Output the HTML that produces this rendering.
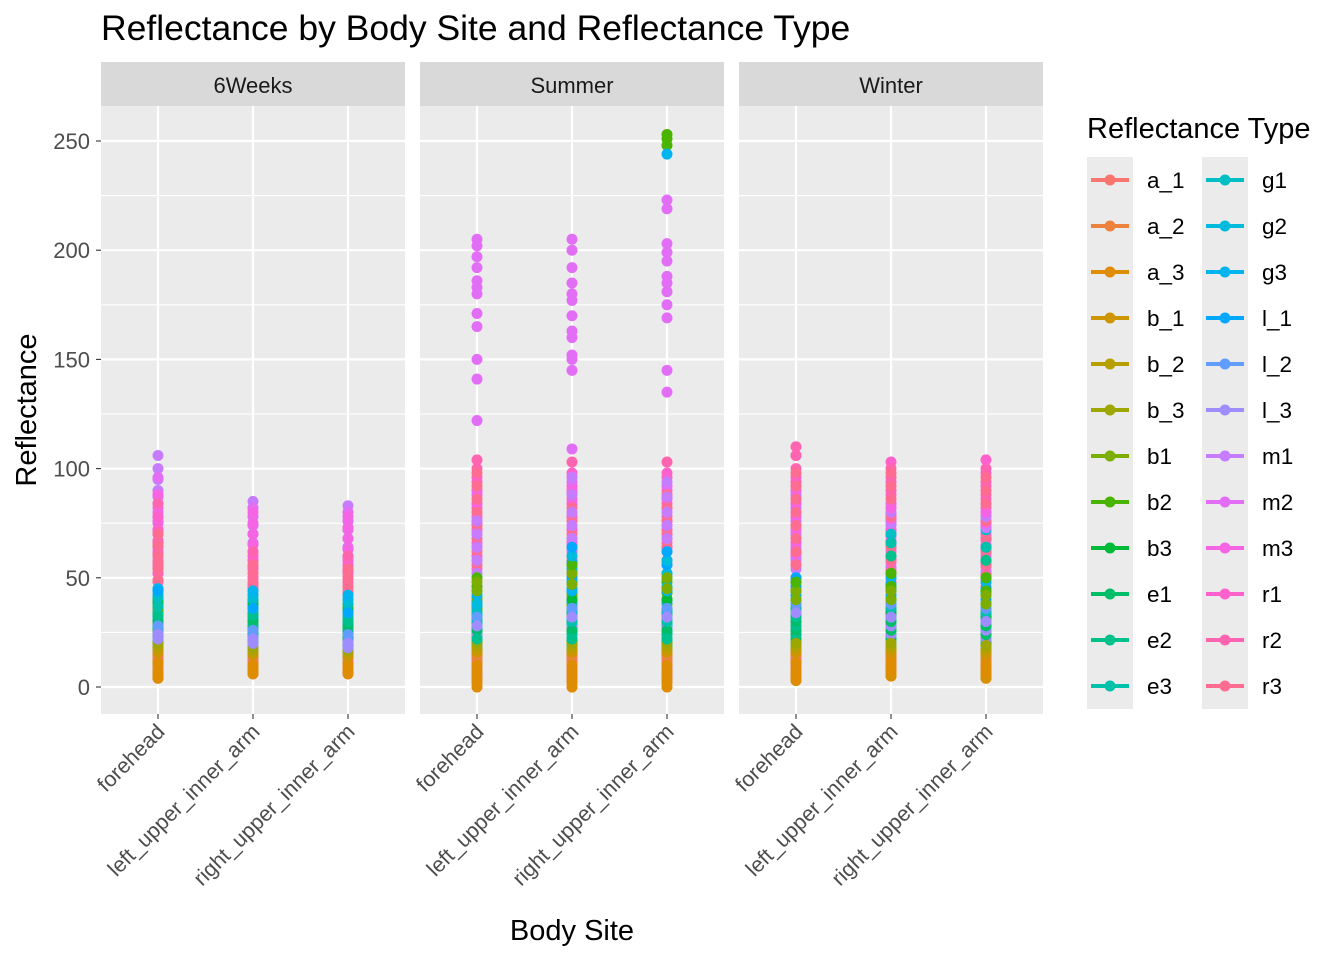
<!DOCTYPE html>
<html><head><meta charset="utf-8">
<style>
html,body{margin:0;padding:0;background:#fff;}
svg{display:block;font-family:"Liberation Sans",Arial,sans-serif;}
</style></head>
<body>
<svg id="chart" width="1344" height="960" viewBox="0 0 1344 960"></svg>
<script>
const types=["a_1","a_2","a_3","b_1","b_2","b_3","b1","b2","b3","e1","e2","e3","g1","g2","g3","l_1","l_2","l_3","m1","m2","m3","r1","r2","r3"];
const facets=["6Weeks","Summer","Winter"];
const sites=["forehead","left_upper_inner_arm","right_upper_inner_arm"];
const yTicks=[0,50,100,150,200,250];
// values per facet/site, one array per type (order as in types)
const w6_forehead=[[4,7,9,13],[5,8,10,15],[4,6,7,11],[6,9,12,16],[8,11,14,18],[10,13,15,20],[22,26,30,33,36],[24,29,34,37,40],[22,25,28,33,38],[18,21,24,27,30],[20,23,27,30,33],[25,28,31,34,37],[29,32,35,38,41],[33,36,39,42,45],[38,40,42,44,45],[24,30,36,40,44],[16,19,22,25,28],[14,17,19,22,24],[72,78,84,87,90,95,100,106],[58,64,70,75,80,88,96],[55,60,64,70,76,82,88],[48,52,56,61,66,72,78],[52,57,62,67,72,78,84],[44,49,54,57,60,65,70]];
const w6_left=[[6,8,9,12],[7,9,11,14],[6,7,8,10],[8,10,12,15],[9,11,13,16],[10,12,14,18],[24,27,30,33,36],[26,30,33,37,40],[22,25,28,33,38],[18,21,24,27,30],[20,23,26,30,33],[24,27,30,33,36],[28,31,34,37,40],[30,33,36,39,42],[34,37,40,42,44],[20,24,28,32,36],[16,18,20,23,26],[14,16,18,20,22],[62,66,70,74,78,82,85],[55,60,66,70,74,78,82],[50,55,60,65,70,75,80],[44,47,50,54,58],[46,50,54,58,62],[42,45,48,52,56]];
const w6_right=[[6,8,9,12],[7,9,10,14],[6,7,8,10],[8,10,11,14],[9,11,12,16],[10,12,14,17],[22,25,28,31,34],[26,29,32,35,37],[20,23,26,30,35],[16,19,22,25,28],[18,21,24,27,30],[22,25,28,31,34],[26,29,32,35,38],[28,31,34,37,40],[32,35,38,40,42],[18,22,26,30,34],[14,16,18,21,24],[12,14,16,18,20],[60,64,68,72,76,80,83],[54,59,64,68,72,76,80],[48,53,58,63,68,73,78],[42,46,50,53,56],[44,48,52,56,60],[40,43,46,50,54]];
const su_forehead=[[0,3,6,9,12],[2,5,8,11,14],[0,2,4,7,10],[4,7,10,13,16],[6,9,12,15,18],[8,11,14,17,20],[20,25,30,35,40,44,48],[26,31,36,41,46,50],[18,23,28,33,38],[8,12,16,21,26],[5,9,14,18,22],[10,15,20,25,30],[14,19,24,29,34],[18,23,28,33,38],[22,27,32,37,42],[26,30,34,39,44],[16,20,24,28,32],[12,16,20,24,28],[40,46,52,58,64,70,76],[58,64,70,75,80,84,88,122,141,150,165,171,180,183,186,192,197,202,205],[54,60,66,72,78,84,90],[60,66,72,78,84,90,96],[64,70,76,82,88,94,100,104],[50,56,62,68,74,80,86,92,98]];
const su_left=[[0,3,6,9,12],[2,5,8,11,14],[0,2,4,7,10],[4,7,10,13,16],[6,9,12,15,18],[8,11,14,17,20],[20,26,32,37,42,47,52],[28,33,38,43,48,52,56],[18,24,30,35,40],[8,12,16,21,26],[4,9,14,18,22],[10,15,20,25,30],[14,19,24,29,34],[22,29,36,42,48,54,60],[24,29,34,39,44],[30,35,40,45,50,57,64],[16,21,26,31,36],[12,17,22,27,32],[44,50,56,62,68,74,80,88,96],[60,66,72,78,84,89,94,109,145,150,152,160,163,170,177,180,185,192,200,205],[54,60,66,72,78,84,90],[62,68,74,80,86,92,98],[66,72,78,84,90,96,103],[52,58,64,70,76,82,88]];
const su_right=[[0,3,6,9,12],[2,5,8,11,14],[0,2,4,7,10],[4,7,10,13,16],[6,9,12,15,18],[8,11,14,17,20],[20,25,30,35,40,45,50],[28,33,38,43,48,248,251,253],[18,24,30,35,40],[8,12,16,21,26],[4,9,14,18,22],[10,15,20,25,30],[14,19,24,29,34],[22,28,34,40,46,52,58],[24,29,34,39,44,244],[30,35,40,45,50,56,62],[16,21,26,31,36],[12,17,22,27,32],[44,50,56,62,68,74,80,87,94],[58,64,70,76,82,87,92,135,145,169,175,181,185,188,195,199,203,219,223],[52,58,64,70,76,82,88],[62,68,74,80,86,92,98],[66,72,78,84,90,96,103],[52,58,64,70,76,82,88]];
const wi_forehead=[[3,5,8,10,13],[4,7,10,12,15],[3,5,6,8,11],[5,8,11,13,16],[6,9,13,15,18],[8,11,14,17,20],[20,24,28,32,36,40,44],[24,28,32,36,40,44,48],[18,22,26,30,34],[14,18,22,26,30],[16,20,24,28,32],[20,24,28,32,36],[24,28,32,36,40],[28,32,36,40,44],[32,36,40,44,48],[34,38,42,46,50],[22,26,30,34,38],[18,22,26,30,34],[54,59,64,70,76,82,88],[58,63,68,74,80,86,92],[56,61,66,72,78,84,90],[60,66,72,78,84,90,96,106],[64,70,76,82,88,94,100,106,110],[50,56,62,68,74,80,86,92,98]];
const wi_left=[[5,7,9,11,13],[6,8,10,12,15],[5,7,8,10,12],[6,9,11,13,16],[7,10,12,15,18],[8,11,14,17,20],[20,24,28,32,36,40,44],[24,28,32,36,40,46,52],[18,22,26,30,34],[14,18,22,26,30],[16,20,24,28,32,60],[20,24,28,32,36,66],[24,28,32,36,40,70],[28,32,36,40,44],[30,35,40,45,50],[34,38,42,47,52],[20,24,28,33,38],[16,20,24,28,32],[50,55,60,65,70,75,80],[54,59,64,69,74,79,84],[52,57,62,67,72,77,82],[58,64,70,76,82,88,94,103],[60,66,72,78,84,90,96,100],[48,53,58,64,70,78,86,92,98]];
const wi_right=[[4,6,8,10,12],[5,7,9,11,14],[4,6,7,9,11],[5,8,10,12,15],[6,9,12,14,17],[7,10,13,16,19],[18,22,26,30,34,38,42],[22,26,30,34,38,44,50],[16,20,24,28,32],[12,16,20,24,28],[14,18,22,26,30,58],[18,22,26,30,34,64],[22,26,30,34,38,72],[26,30,34,38,42],[28,33,38,43,48],[32,36,40,45,50],[18,22,26,31,36],[14,18,22,26,30],[48,53,58,63,68,73,78],[52,57,62,67,72,78,84],[50,55,60,65,70,75,80],[56,62,68,74,80,86,92,98,104],[58,64,70,76,82,88,94,100],[46,51,56,62,68,76,84,90,96]];
const groups=[[w6_forehead,w6_left,w6_right],[su_forehead,su_left,su_right],[wi_forehead,wi_left,wi_right]];

const NS="http://www.w3.org/2000/svg";
const svg=document.getElementById('chart');
function mk(tag,attrs,parent){const e=document.createElementNS(NS,tag);for(const k in attrs)e.setAttribute(k,attrs[k]);(parent||svg).appendChild(e);return e;}
function hcl(h,c,l){
  const hr=h*Math.PI/180;const L=l,U=c*Math.cos(hr),V=c*Math.sin(hr);
  const Xn=95.047,Yn=100,Zn=108.883;const un=4*Xn/(Xn+15*Yn+3*Zn),vn=9*Yn/(Xn+15*Yn+3*Zn);
  const Y=L>8?Yn*Math.pow((L+16)/116,3):Yn*L/903.3;
  const u=U/(13*L)+un,v=V/(13*L)+vn;
  const X=9*Y*u/(4*v),Z=(12-3*u-20*v)*Y/(4*v);
  const x=X/100,y=Y/100,z=Z/100;
  let r=3.2406*x-1.5372*y-0.4986*z,g=-0.9689*x+1.8758*y+0.0415*z,b=0.0557*x-0.2040*y+1.0570*z;
  const f=t=>{t=t<=0.0031308?12.92*t:1.055*Math.pow(t,1/2.4)-0.055;return Math.round(Math.max(0,Math.min(1,t))*255);};
  return `rgb(${f(r)},${f(g)},${f(b)})`;
}
const colors=types.map((t,i)=>hcl(15+360*i/types.length,100,65));

const panelX=[101,420,739],panelW=304,panelTop=106,panelBot=714;
const yScale=v=>687-v*(687-141)/250;
const xScale=(p,s)=>panelX[p]+57+s*95;

mk('text',{x:101,y:40,'font-size':35.5,fill:'#000',}).textContent="Reflectance by Body Site and Reflectance Type";

facets.forEach((f,p)=>{
  const g=mk('g',{});
  
  
  const st=mk('rect',{x:panelX[p],y:62,width:panelW,height:44,fill:'#d9d9d9'},g);
  
  
  const stt=mk('text',{x:panelX[p]+panelW/2,y:93,'font-size':22,fill:'#1a1a1a','text-anchor':'middle'},g);
  
  
  stt.textContent=f;
  mk('rect',{x:panelX[p],y:panelTop,width:panelW,height:panelBot-panelTop,fill:'#ebebeb'},g);
  for(let i=0;i<yTicks.length-1;i++){const yy=yScale((yTicks[i]+yTicks[i+1])/2);mk('line',{x1:panelX[p],x2:panelX[p]+panelW,y1:yy,y2:yy,stroke:'#fff','stroke-width':1.1},g);}
  yTicks.forEach(t=>{mk('line',{x1:panelX[p],x2:panelX[p]+panelW,y1:yScale(t),y2:yScale(t),stroke:'#fff','stroke-width':2.2},g);});
  sites.forEach((s,si)=>{const xx=xScale(p,si);mk('line',{x1:xx,x2:xx,y1:panelTop,y2:panelBot,stroke:'#fff','stroke-width':2.2},g);
    mk('line',{x1:xx,x2:xx,y1:panelBot,y2:panelBot+5,stroke:'#333','stroke-width':1.1});
    const lt=mk('text',{x:0,y:0,'font-size':21.5,fill:'#4d4d4d','text-anchor':'end',transform:`translate(${xx+8},${panelBot+19}) rotate(-45)`});
    
    
    lt.textContent=s;
  });
  sites.forEach((s,si)=>{
    const xx=xScale(p,si);const data=groups[p][si];
    const maxLen=Math.max(...data.map(a=>a.length));
    for(let j=0;j<maxLen;j++){
      types.forEach((t,ti)=>{
        const v=data[ti][j];
        if(v===undefined)return;
        const c=mk('circle',{cx:xx,cy:yScale(v),r:5.5,fill:colors[ti]},g);
        
        
      });
    }
  });
});
yTicks.forEach(t=>{
  mk('line',{x1:96,x2:101,y1:yScale(t),y2:yScale(t),stroke:'#333','stroke-width':1.1});
  const tl=mk('text',{x:90,y:yScale(t)+8,'font-size':22,fill:'#4d4d4d','text-anchor':'end'});
  
  
  tl.textContent=t;
});
mk('text',{x:572,y:940,'font-size':29,fill:'#000','text-anchor':'middle',}).textContent="Body Site";
mk('text',{x:0,y:0,'font-size':29,fill:'#000','text-anchor':'middle',transform:'translate(36,410) rotate(-90)',}).textContent="Reflectance";

// legend
mk('text',{x:1087,y:138,'font-size':29,fill:'#000',}).textContent="Reflectance Type";
[1087,1202].forEach(x=>mk('rect',{x:x,y:157,width:46,height:552,fill:'#ebebeb'}));
types.forEach((t,i)=>{
  const col=Math.floor(i/12),row=i%12;
  const x=1087+col*115,y=180+row*46;
  const g=mk('g',{});
  
  
  mk('line',{x1:x+4,x2:x+42,y1:y,y2:y,stroke:colors[i],'stroke-width':4},g);
  mk('circle',{cx:x+23,cy:y,r:5.5,fill:colors[i]},g);
  mk('text',{x:x+60,y:y+8,'font-size':22.5,fill:'#000'},g).textContent=t;
});
</script>
</body></html>
